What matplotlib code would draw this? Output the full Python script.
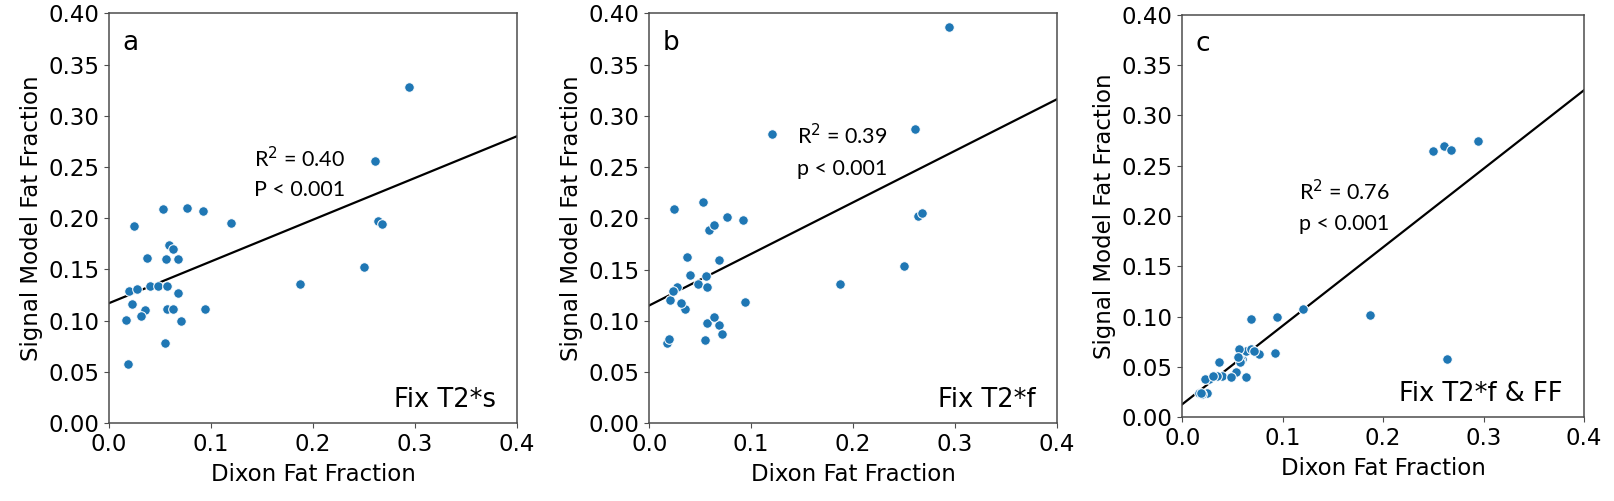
import matplotlib
matplotlib.use("Agg")
import matplotlib.pyplot as plt
import numpy as np

# Dixon fat fraction (shared x for all panels)
dixon_ff = [0.294, 0.261, 0.264, 0.268, 0.250, 0.187, 0.120, 0.092,
            0.076, 0.053, 0.0245, 0.059, 0.063, 0.037, 0.056, 0.068,
            0.020, 0.027, 0.040, 0.048, 0.057, 0.068, 0.023, 0.035,
            0.031, 0.017, 0.057, 0.063, 0.071, 0.094, 0.055, 0.019]

# Signal model fat fraction, one list per fitting variant
ff_fix_t2s = [0.328, 0.256, 0.197, 0.194, 0.152, 0.136, 0.195, 0.207,
              0.210, 0.209, 0.1925, 0.174, 0.170, 0.161, 0.160, 0.160,
              0.129, 0.131, 0.134, 0.134, 0.134, 0.127, 0.116, 0.110,
              0.104, 0.101, 0.111, 0.111, 0.100, 0.111, 0.078, 0.058]

ff_fix_t2f = [0.387, 0.2875, 0.202, 0.2055, 0.1535, 0.136, 0.282, 0.198,
              0.201, 0.216, 0.209, 0.189, 0.1935, 0.162, 0.144, 0.159,
              0.120, 0.133, 0.145, 0.136, 0.133, 0.096, 0.129, 0.1115,
              0.117, 0.078, 0.0975, 0.104, 0.087, 0.118, 0.081, 0.0826]

ff_fix_t2f_ff = [0.2745, 0.270, 0.058, 0.2656, 0.2646, 0.102, 0.1076, 0.0636,
                 0.063, 0.045, 0.0245, 0.058, 0.0655, 0.055, 0.0675, 0.098,
                 0.023, 0.0377, 0.041, 0.040, 0.058, 0.0675, 0.0377, 0.041,
                 0.041, 0.0245, 0.055, 0.040, 0.066, 0.0993, 0.060, 0.0245]

# regression lines (intercept, slope)
fits = [(0.117, 0.4075), (0.115, 0.503), (0.013, 0.78)]

panel_letters = ["a", "b", "c"]
r2_text = ["R$^2$ = 0.40", "R$^2$ = 0.39", "R$^2$ = 0.76"]
p_text = ["P < 0.001", "p < 0.001", "p < 0.001"]
variant_labels = ["Fix T2*s", "Fix T2*f", "Fix T2*f & FF"]

W, H = 1615, 501
fig = plt.figure(figsize=(W / 100, H / 100), dpi=100)

# axes boxes in pixels: left, right, top, bottom
boxes = [(109, 517, 13.3, 423), (649.3, 1057, 13.3, 423.3),
         (1182.3, 1584, 14.7, 417.3)]
# x, baseline of R2 line, baseline of p line
stat_pos = [(0.142, 0.25, 0.222), (0.1446, 0.2725, 0.242),
            (0.116, 0.216, 0.186)]

series = [ff_fix_t2s, ff_fix_t2f, ff_fix_t2f_ff]
tick_vals = np.arange(0, 0.41, 0.05)

for i in range(3):
    l, r, t, b = boxes[i]
    ax = fig.add_axes([l / W, 1 - b / H, (r - l) / W, (b - t) / H])

    ax.scatter(dixon_ff, series[i], s=48, color="#1f77b4",
               edgecolor="white", linewidth=0.75, zorder=3)

    xs = np.array([0.0, 0.4])
    a0, a1 = fits[i]
    ax.plot(xs, a0 + a1 * xs, color="black", linewidth=1.6, zorder=2)

    ax.set_xlim(0, 0.4)
    ax.set_ylim(0, 0.4)
    ax.set_xticks([0.0, 0.1, 0.2, 0.3, 0.4])
    ax.set_yticks(tick_vals)
    ax.set_xticklabels(["0.0", "0.1", "0.2", "0.3", "0.4"])
    ax.set_yticklabels(["%.2f" % v for v in tick_vals])
    ax.tick_params(axis="both", labelsize=16.5, length=3.5,
                   color="0.3")
    for sp in ax.spines.values():
        sp.set_color("0.3")
        sp.set_linewidth(1.1)

    ax.set_xlabel("Dixon Fat Fraction", fontsize=16.5, labelpad=5)
    ax.set_ylabel("Signal Model Fat Fraction", fontsize=16.5, labelpad=4)

    ax.text(0.013, 0.364, panel_letters[i], fontsize=19, va="baseline")
    sx, sy1, sy2 = stat_pos[i]
    ax.text(sx, sy1, r2_text[i], fontsize=15.5, va="baseline", family="Lato")
    ax.text(sx, sy2, p_text[i], fontsize=15.5, va="baseline", family="Lato")
    ax.text(0.379, 0.016, variant_labels[i], fontsize=18.5, ha="right",
            va="baseline")

fig.savefig("out.png", dpi=100)
